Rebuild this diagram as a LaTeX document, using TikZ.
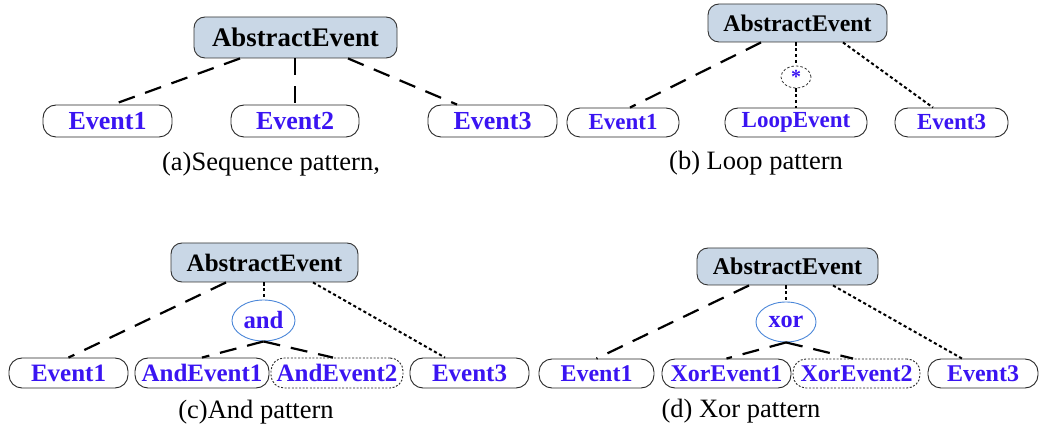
\documentclass[tikz,border=0pt]{standalone}
\usepackage{fontspec}
\setmainfont{Liberation Serif}
\usetikzlibrary{shapes.geometric}
\definecolor{absfill}{HTML}{C9D7E6}
\definecolor{evblue}{HTML}{3A14F2}
\definecolor{opblue}{HTML}{4A86D8}
\newcommand{\fs}[1]{\fontsize{#1}{#1}\selectfont}
\tikzset{
  absbox/.style={draw=black!80, fill=absfill, line width=0.9pt, rounded corners=11pt,
    inner sep=0pt, font=\bfseries, text=black},
  evbox/.style={draw=black!85, line width=0.9pt, rounded corners=13pt,
    inner sep=0pt, font=\bfseries, text=evblue},
  evdotbox/.style={evbox, dash pattern=on 2pt off 1.6pt},
  opnode/.style={ellipse, draw=opblue, line width=0.9pt, inner sep=0pt,
    font=\bfseries, text=evblue},
  starnode/.style={ellipse, draw=black!80, line width=0.8pt, dash pattern=on 2.5pt off 2pt,
    inner sep=0pt, font=\bfseries, text=evblue},
  dashline/.style={line width=2.2pt, dash pattern=on 17pt off 11pt},
  dotline/.style={line width=2pt, dash pattern=on 3.2pt off 2.6pt},
  caption/.style={anchor=base, inner sep=0pt, font=\fs{26.5}}
}
\begin{document}
\begin{tikzpicture}[x=1pt, y=-1pt]
\useasboundingbox (0,0) rectangle (1039,427);

% (a) sequence
\node[absbox, minimum width=203pt, minimum height=41pt, font=\bfseries\fs{26.8}] (aA) at (295.5,37.5) {AbstractEvent};
\node[evbox, minimum width=129pt, minimum height=32pt, font=\bfseries\fs{26}] (aE1) at (107.5,121) {Event1};
\node[evbox, minimum width=128pt, minimum height=32pt, font=\bfseries\fs{26}] (aE2) at (295,121) {Event2};
\node[evbox, minimum width=129pt, minimum height=32pt, font=\bfseries\fs{26}] (aE3) at (492.5,121) {Event3};
\draw[dashline] ([xshift=-55.5pt]aA.south) -- ([xshift=5.5pt]aE1.north);
\draw[dashline] (aA.south -| aE2.north) -- (aE2.north);
\draw[dashline] ([xshift=52.5pt]aA.south) -- ([xshift=-35.5pt]aE3.north);
\node[caption] (acap) at (271,171) {(a)Sequence pattern,};

% (b) loop
\node[absbox, minimum width=179pt, minimum height=38pt, font=\bfseries\fs{23.8}] (bA) at (797.5,23) {AbstractEvent};
\node[starnode, minimum width=30pt, minimum height=22pt, font=\bfseries\fs{20}] (bS) at (796,77) {*};
\node[evbox, minimum width=112pt, minimum height=29pt, font=\bfseries\fs{23}] (bE1) at (623,122.5) {Event1};
\node[evbox, minimum width=142pt, minimum height=29pt, font=\bfseries\fs{23}] (bL) at (796,122.5) {LoopEvent};
\node[evbox, minimum width=113pt, minimum height=29pt, font=\bfseries\fs{23}] (bE3) at (951.5,122.5) {Event3};
\draw[dashline] ([xshift=-36.5pt]bA.south) -- ([xshift=7pt]bE1.north);
\draw[dotline] (bS.north |- bA.south) -- (bS.north);
\draw[dotline] (bS.south) -- (bL.north);
\draw[dotline] ([xshift=45.5pt]bA.south) -- ([xshift=-18.5pt]bE3.north);
\node[caption] (bcap) at (756,170) {(b) Loop pattern};

% (c) and
\node[absbox, minimum width=187pt, minimum height=39pt, font=\bfseries\fs{25}] (cA) at (264.5,262.5) {AbstractEvent};
\node[opnode, minimum width=63pt, minimum height=41pt, font=\bfseries\fs{24.8}] (cO) at (263.5,320.5) {and};
\node[evbox, minimum width=119pt, minimum height=30pt, font=\bfseries\fs{25}] (cE1) at (68.5,373) {Event1};
\node[evbox, minimum width=134pt, minimum height=30pt, font=\bfseries\fs{25}] (cA1) at (202,373) {AndEvent1};
\node[evdotbox, minimum width=132pt, minimum height=30pt, font=\bfseries\fs{25}] (cA2) at (337,373) {AndEvent2};
\node[evbox, minimum width=119pt, minimum height=30pt, font=\bfseries\fs{25}] (cE3) at (469.5,373) {Event3};
\draw[dashline] ([xshift=-38.5pt]cA.south) -- (cE1.north);
\draw[dotline] (cO.north |- cA.south) -- (cO.north);
\draw[dotline] ([xshift=48.5pt]cA.south) -- ([xshift=-24.5pt]cE3.north);
\draw[dashline] (cO.south) -- (cA1.north);
\draw[dashline] (cO.south) -- ([xshift=-4pt]cA2.north);
\node[caption] (ccap) at (256,418.5) {(c)And pattern};

% (d) xor
\node[absbox, minimum width=181pt, minimum height=37pt, font=\bfseries\fs{24}] (dA) at (787.5,266.5) {AbstractEvent};
\node[opnode, minimum width=60pt, minimum height=40pt, font=\bfseries\fs{24.2}] (dO) at (786,322) {xor};
\node[evbox, minimum width=115pt, minimum height=29pt, font=\bfseries\fs{24}] (dE1) at (596.5,373.5) {Event1};
\node[evbox, minimum width=129pt, minimum height=29pt, font=\bfseries\fs{24}] (dX1) at (726.5,373.5) {XorEvent1};
\node[evdotbox, minimum width=127pt, minimum height=29pt, font=\bfseries\fs{24}] (dX2) at (856.5,373.5) {XorEvent2};
\node[evbox, minimum width=110pt, minimum height=29pt, font=\bfseries\fs{24}] (dE3) at (983,373.5) {Event3};
\draw[dashline] ([xshift=-38.5pt]dA.south) -- (dE1.north);
\draw[dotline] (dO.north |- dA.south) -- (dO.north);
\draw[dotline] ([xshift=45.5pt]dA.south) -- ([xshift=-21pt]dE3.north);
\draw[dashline] (dO.south) -- (dX1.north);
\draw[dashline] (dO.south) -- ([xshift=-3.5pt]dX2.north);
\node[caption] (dcap) at (741,417.5) {(d) Xor pattern};
\end{tikzpicture}
\end{document}
